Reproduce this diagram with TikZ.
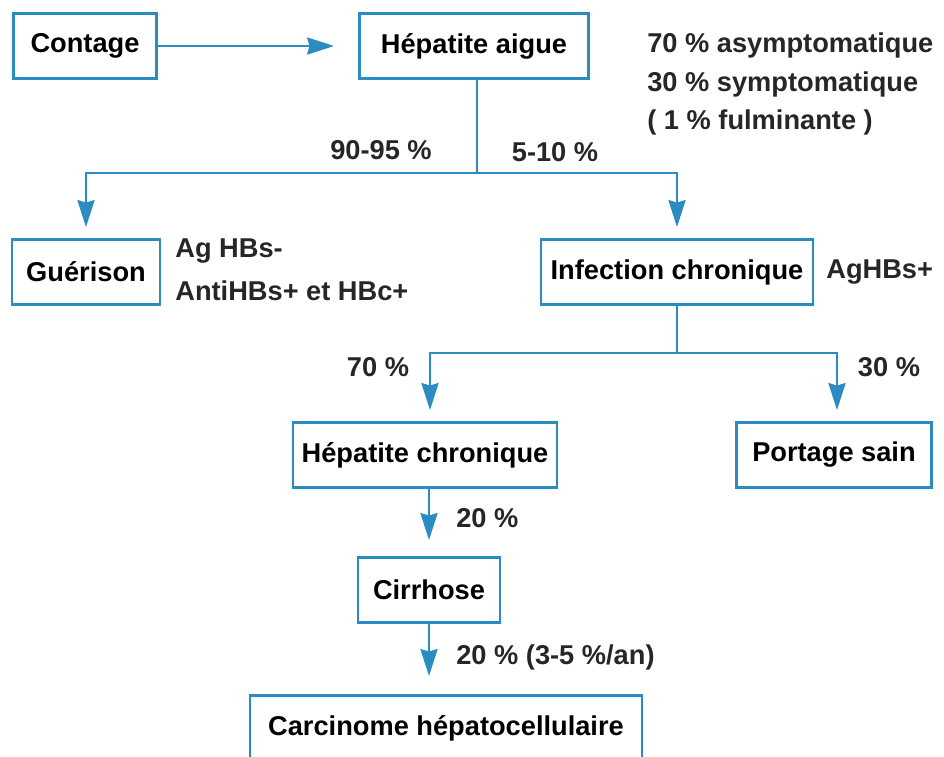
\documentclass[tikz,border=0pt]{standalone}
\usepackage{fontspec}
\setmainfont{Liberation Sans}
\usetikzlibrary{arrows.meta,calc,positioning}
\definecolor{hbvblue}{RGB}{42,140,192}
\tikzset{
  flow box/.style={rectangle,draw=hbvblue,line width=1.6pt,minimum height=1.3cm,inner sep=2pt,
    font=\fontsize{15.5}{18}\selectfont\bfseries},
  flow line/.style={draw=hbvblue,line width=1.6pt},
  flow edge/.style={flow line,-{Stealth[length=0.54cm,width=0.34cm,inset=0.05cm]},shorten >=0.22cm},
  note text/.style={inner sep=0pt,font=\fontsize{15.5}{18}\selectfont\bfseries,text=black!85},
}
\begin{document}
\begin{tikzpicture}[x=0.02cm,y=-0.02cm]
  \useasboundingbox (0,0) rectangle (944,757);
  % boxes
  \node[flow box,minimum width=2.86cm] (contage) at (85,46) {Contage};
  \node[flow box,minimum width=4.58cm] (aigue) at (474,46) {Hépatite aigue};
  \node[flow box,minimum width=2.96cm] (guerison) at (86,272) {Guérison};
  \node[flow box,minimum width=5.44cm] (infection) at (677,272) {Infection chronique};
  \node[flow box,minimum width=5.28cm] (hchron) at (425,455) {Hépatite chronique};
  \node[flow box,minimum width=3.90cm] (portage) at (834,455) {Portage sain};
  \node[flow box,minimum width=2.84cm] (cirrhose) at (429,590) {Cirrhose};
  \node[flow box,minimum width=7.84cm] (chc) at (446,728) {Carcinome hépatocellulaire};
  % split points
  \coordinate (s1) at (477,173);
  \coordinate (s2) at (677,353);
  % connectors
  \draw[flow edge,shorten >=0.48cm] (contage) -- (aigue);
  \draw[flow line] (aigue.south -| s1) -- (s1);
  \draw[flow edge] (s1) -| (guerison.north);
  \draw[flow edge] (s1) -| (infection.north);
  \draw[flow line] (infection.south) -- (s2);
  \draw[flow edge] (s2) -| ($(hchron.north)+(5,0)$);
  \draw[flow edge] (s2) -| ($(portage.north)+(3,0)$);
  \draw[flow edge,shorten >=0.32cm] (hchron.south -| cirrhose) -- (cirrhose.north);
  \draw[flow edge,shorten >=0.36cm] (cirrhose.south) -- (cirrhose.south |- chc.north);
  % labels
  \node[note text,align=left,anchor=west] (clin) at (647,84)
    {70~\% asymptomatique\\[0.14cm]30~\% symptomatique\\[0.14cm]( 1~\% fulminante )};
  \node[note text] (p1) at (381,150) {90-95~\%};
  \node[note text] (p2) at (555,152) {5-10~\%};
  \node[note text,align=left,anchor=west] (sero) at (175,270) {Ag HBs-\\[0.22cm]AntiHBs+ et HBc+};
  \node[note text,anchor=west] (ag) at (826,272) {AgHBs+};
  \node[note text] (p3) at (378,367) {70~\%};
  \node[note text] (p4) at (889,367) {30~\%};
  \node[note text,anchor=west] (p5) at (456,518) {20~\%};
  \node[note text,anchor=west] (p6) at (456,657) {20~\% (3-5~\%/an)};
\end{tikzpicture}
\end{document}
